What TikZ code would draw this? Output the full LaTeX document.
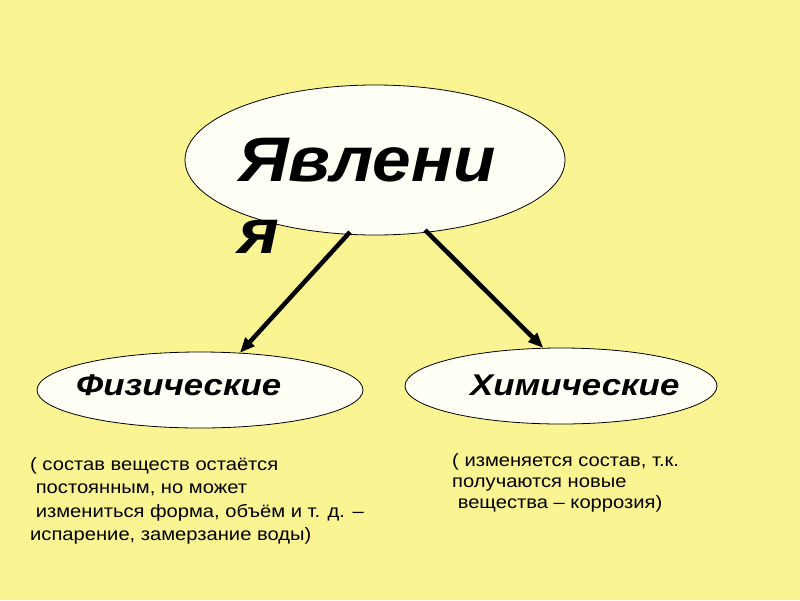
\documentclass[tikz,border=0pt]{standalone}
\usepackage{fontspec}
\setmainfont{Liberation Sans}
\usetikzlibrary{shapes.geometric,arrows.meta}
\definecolor{bg}{RGB}{250,244,146}
\definecolor{ovalfill}{RGB}{255,255,245}
\newcommand\widetext[2]{\scalebox{#1}[1]{\begin{tabular}[t]{@{}l@{}}#2\end{tabular}}}
\tikzset{
  oval/.style={ellipse, draw=black, line width=0.8pt, fill=ovalfill, inner sep=0pt},
  titletext/.style={font=\fontsize{63}{72}\selectfont\bfseries\itshape, inner sep=0pt, anchor=base west},
  labeltext/.style={font=\fontsize{30}{34}\selectfont\bfseries\itshape, inner sep=0pt, anchor=base west},
  note/.style={font=\fontsize{18}{23.5}\selectfont, inner sep=0pt, anchor=base west},
  arr/.style={line width=4.5pt, -{Triangle[length=15pt,width=12pt]}}
}
\begin{document}
\begin{tikzpicture}[x=1pt,y=-1pt]
\fill[bg] (0,0) rectangle (800,600);
\useasboundingbox (0,0) rectangle (800,600);
\node[oval, minimum width=380pt, minimum height=150pt] (top) at (375,160) {};
\node[titletext] (title) at (238,181) {\widetext{1.1}{Явлени\\я}};
\node[oval, minimum width=326pt, minimum height=76pt] (phys) at (200,390) {};
\node[labeltext] (physt) at (76,395) {\widetext{1.16}{Физические}};
\node[oval, minimum width=312pt, minimum height=76pt] (chem) at (561,386) {};
\node[labeltext] (chemt) at (470,395) {\widetext{1.16}{Химические}};
\coordinate (s1) at (350,232);
\coordinate (s2) at (425,230);
\draw[arr] (s1) -- (phys.43);
\draw[arr] (s2) -- (chem.115);
\node[note] (pnote) at (30,470) {\widetext{1.12}{( состав веществ остаётся\\\ постоянным, но может\\\ измениться форма, объём и т. д. –\\испарение, замерзание воды)}};
\node[note, font=\fontsize{18}{21}\selectfont] (cnote) at (452,466) {\widetext{1.12}{( изменяется состав, т.к.\\получаются новые\\\ вещества – коррозия)}};
\end{tikzpicture}
\end{document}
